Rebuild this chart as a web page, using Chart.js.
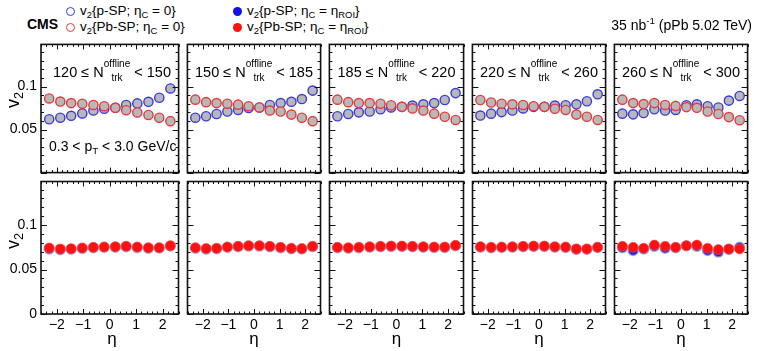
<!DOCTYPE html>
<html>
<head>
<meta charset="utf-8">
<script src="https://cdn.jsdelivr.net/npm/chart.js@4"></script>
<style>
  body { margin: 0; background: #fff; }
  #fig { position: relative; width: 764px; height: 351px; overflow: hidden;
         font-family: "Liberation Sans", Arial, sans-serif; color: #000; }
  #fig canvas { position: absolute; }
  .t { position: absolute; white-space: nowrap; line-height: 1; }
  .stk { display: inline-flex; flex-direction: column; font-size: 10px; line-height: 14px; vertical-align: 10px; }
  .mk { position: absolute; width: 9px; height: 9px; border-radius: 50%; box-sizing: border-box; }
  sub { font-size: 70%; vertical-align: -0.3em; line-height: 0; }
  sup { font-size: 70%; vertical-align: 0.6em; line-height: 0; }
</style>
</head>
<body>
<div id="fig"></div>
<script>
// eta bin centres
const eta = [-2.29, -1.87, -1.46, -1.04, -0.62, -0.21, 0.21, 0.62, 1.04, 1.46, 1.87, 2.29];
const xTicks = [-2, -1, 0, 1, 2];
const yTicks = [0, 0.05, 0.1];

// multiplicity classes
const nLow = [120, 150, 185, 220, 260];
const nHigh = [150, 185, 220, 260, 300];

// top row: eta_C = 0
const pSP0 = [
  [0.0620, 0.0638, 0.0660, 0.0688, 0.0721, 0.0742, 0.0753, 0.0786, 0.0804, 0.0823, 0.0870, 0.0978],
  [0.0638, 0.0655, 0.0681, 0.0710, 0.0728, 0.0750, 0.0757, 0.0786, 0.0808, 0.0823, 0.0855, 0.0953],
  [0.0655, 0.0681, 0.0700, 0.0710, 0.0736, 0.0757, 0.0764, 0.0779, 0.0793, 0.0808, 0.0844, 0.0924],
  [0.0663, 0.0685, 0.0703, 0.0721, 0.0746, 0.0764, 0.0764, 0.0779, 0.0783, 0.0793, 0.0829, 0.0910],
  [0.0685, 0.0677, 0.0692, 0.0736, 0.0721, 0.0728, 0.0783, 0.0793, 0.0772, 0.0757, 0.0837, 0.0891]
];
const PbSP0 = [
  [0.0862, 0.0826, 0.0808, 0.0801, 0.0786, 0.0772, 0.0753, 0.0725, 0.0699, 0.0670, 0.0638, 0.0598],
  [0.0848, 0.0819, 0.0808, 0.0801, 0.0790, 0.0772, 0.0757, 0.0721, 0.0710, 0.0674, 0.0638, 0.0598],
  [0.0848, 0.0819, 0.0808, 0.0808, 0.0801, 0.0783, 0.0764, 0.0746, 0.0721, 0.0685, 0.0649, 0.0612],
  [0.0844, 0.0815, 0.0801, 0.0793, 0.0786, 0.0772, 0.0764, 0.0742, 0.0728, 0.0674, 0.0649, 0.0612],
  [0.0848, 0.0808, 0.0797, 0.0808, 0.0786, 0.0775, 0.0761, 0.0753, 0.0710, 0.0681, 0.0645, 0.0609]
];

// bottom row: eta_C = eta_ROI
const pSProi = [
  [0.0732, 0.0722, 0.0728, 0.0738, 0.0746, 0.0750, 0.0752, 0.0757, 0.0747, 0.0740, 0.0742, 0.0765],
  [0.0740, 0.0730, 0.0735, 0.0750, 0.0757, 0.0764, 0.0764, 0.0757, 0.0745, 0.0734, 0.0731, 0.0758],
  [0.0745, 0.0740, 0.0745, 0.0752, 0.0757, 0.0760, 0.0760, 0.0757, 0.0752, 0.0748, 0.0748, 0.0768],
  [0.0752, 0.0745, 0.0748, 0.0752, 0.0757, 0.0760, 0.0760, 0.0752, 0.0748, 0.0727, 0.0728, 0.0748],
  [0.0746, 0.0714, 0.0732, 0.0761, 0.0739, 0.0746, 0.0768, 0.0761, 0.0714, 0.0696, 0.0725, 0.0750]
];
const PbSProi = [
  [0.0742, 0.0732, 0.0735, 0.0742, 0.0750, 0.0753, 0.0757, 0.0761, 0.0753, 0.0746, 0.0746, 0.0768],
  [0.0746, 0.0736, 0.0739, 0.0753, 0.0761, 0.0768, 0.0768, 0.0761, 0.0750, 0.0739, 0.0736, 0.0761],
  [0.0750, 0.0746, 0.0750, 0.0757, 0.0761, 0.0764, 0.0764, 0.0761, 0.0757, 0.0753, 0.0753, 0.0772],
  [0.0757, 0.0750, 0.0753, 0.0757, 0.0761, 0.0764, 0.0764, 0.0757, 0.0753, 0.0732, 0.0732, 0.0750],
  [0.0761, 0.0750, 0.0739, 0.0775, 0.0761, 0.0750, 0.0768, 0.0775, 0.0739, 0.0725, 0.0732, 0.0732]
];

// layout (pixels)
const edgesX = [41, 183, 325, 468, 610, 752];
const rowTop = [40, 177];
const rowH = 137;
const xAxisH = 37;
const yAxisW = 41;

const fig = document.getElementById('fig');

function fmt(v) {
  return String(v).replace('-', '\u2212');
}

// frame + inward ticks on all four sides, drawn from the chart's own scales
const framePlugin = {
  id: 'frame',
  afterDraw(chart) {
    const { ctx, chartArea: a, scales: { x, y } } = chart;
    ctx.save();
    ctx.strokeStyle = '#111';
    ctx.lineWidth = 1;
    ctx.beginPath();
    for (let i = -13; i <= 13; i++) {
      const px = Math.round(x.getPixelForValue(i * 0.2)) + 0.5;
      const len = i % 5 === 0 ? 5 : 2.5;
      ctx.moveTo(px, a.bottom); ctx.lineTo(px, a.bottom - len);
      ctx.moveTo(px, a.top); ctx.lineTo(px, a.top + len);
    }
    for (let i = 0; i <= 14; i++) {
      const py = Math.round(y.getPixelForValue(i * 0.01)) + 0.5;
      const len = i % 5 === 0 ? 6 : 3;
      ctx.moveTo(a.left, py); ctx.lineTo(a.left + len, py);
      ctx.moveTo(a.right, py); ctx.lineTo(a.right - len, py);
    }
    ctx.stroke();
    ctx.lineWidth = 1.6;
    ctx.strokeRect(a.left, a.top, a.right - a.left, a.bottom - a.top);
    ctx.restore();
  }
};

function points(vals) {
  return vals.map((v, i) => ({ x: eta[i], y: v }));
}

function noPad(s) {
  s.paddingLeft = 0; s.paddingRight = 0; s.paddingTop = 0; s.paddingBottom = 0;
}

function makePanel(row, col) {
  const first = col === 0;
  const bottom = row === 1;
  const left = first ? 0 : edgesX[col] - 2;
  const top = rowTop[row] - 2;
  const width = edgesX[col + 1] + 2 - left;
  const height = rowH + 2 + (bottom ? xAxisH : 2);

  const cv = document.createElement('canvas');
  cv.width = width; cv.height = height;
  cv.style.left = left + 'px'; cv.style.top = top + 'px';
  cv.style.width = width + 'px'; cv.style.height = height + 'px';
  fig.appendChild(cv);

  const datasets = bottom ? [
    { data: points(PbSProi[col]), pointRadius: 5, backgroundColor: '#ff1010', borderColor: 'rgba(255,80,80,0.6)', borderWidth: 1 },
    { data: points(pSProi[col]), pointRadius: 5, backgroundColor: '#2020e0', borderColor: 'rgba(150,150,200,0.7)', borderWidth: 1.5 }
  ] : [
    { data: points(PbSP0[col]), pointRadius: 4.6, backgroundColor: '#b8b8b8', borderColor: '#e8383a', borderWidth: 1.4 },
    { data: points(pSP0[col]), pointRadius: 4.6, backgroundColor: '#b8b8b8', borderColor: '#3a3ae0', borderWidth: 1.4 }
  ];

  new Chart(cv, {
    type: 'scatter',
    data: { datasets },
    options: {
      responsive: false,
      animation: false,
      layout: { padding: { left: first ? 0 : 2, right: 2, top: 2, bottom: bottom ? 0 : 2 } },
      plugins: { legend: { display: false }, tooltip: { enabled: false } },
      elements: { point: { hoverRadius: 5 } },
      scales: {
        x: {
          type: 'linear', min: -2.6, max: 2.6, display: bottom,
          grid: { display: false, drawTicks: false }, border: { display: false },
          ticks: { color: '#000', font: { family: 'Liberation Sans', size: 14 }, padding: 3, callback: v => fmt(v) },
          afterBuildTicks: s => { s.ticks = xTicks.map(v => ({ value: v })); },
          afterFit: s => { s.height = bottom ? xAxisH : 0; noPad(s); }
        },
        y: {
          type: 'linear', min: 0, max: 0.149, display: first,
          grid: { display: false, drawTicks: false }, border: { display: false },
          ticks: { color: '#000', font: { family: 'Liberation Sans', size: 14 }, padding: 4, callback: v => fmt(v) },
          afterBuildTicks: s => { s.ticks = yTicks.filter(v => bottom || v > 0).map(v => ({ value: v })); },
          afterFit: s => { s.width = first ? yAxisW : 0; noPad(s); }
        }
      }
    },
    plugins: [framePlugin]
  });
}

for (let r = 0; r < 2; r++) {
  for (let c = 0; c < 5; c++) makePanel(r, c);
}

// text overlay
function addText(html, style) {
  const d = document.createElement('div');
  d.className = 't';
  d.innerHTML = html;
  Object.assign(d.style, style);
  fig.appendChild(d);
  return d;
}

for (let c = 0; c < 5; c++) {
  const cx = (edgesX[c] + edgesX[c + 1]) / 2;
  addText(nLow[c] + ' \u2264 N<span class="stk"><span>offline</span><span>trk</span></span> &lt; ' + nHigh[c],
    { left: (cx - 80) + 'px', width: '160px', textAlign: 'center', top: '57px', fontSize: '14.5px' });
  addText('\u03b7', { left: (cx - 20) + 'px', width: '40px', textAlign: 'center', top: '330px', fontSize: '17px' });
}

addText('0.3 &lt; p<sub>T</sub> &lt; 3.0 GeV/c', { left: '49px', top: '139px', fontSize: '14px' });

for (let r = 0; r < 2; r++) {
  addText('v<sub>2</sub>', { left: '-7px', width: '40px', textAlign: 'center',
    top: (r === 0 ? 91 : 232) + 'px', fontSize: '18px', transform: 'rotate(-90deg)' });
}

addText('CMS', { left: '27px', top: '17px', fontSize: '14px', fontWeight: 'bold' });

function addMarker(x, y, filled, color) {
  const m = document.createElement('div');
  m.className = 'mk';
  m.style.left = (x - 4.5) + 'px';
  m.style.top = (y - 4.5) + 'px';
  m.style.border = filled ? 'none' : '1.4px solid ' + color;
  m.style.background = filled ? color : 'transparent';
  fig.appendChild(m);
}

addMarker(70, 11, false, '#3a3ae0');
addMarker(70, 27, false, '#e8383a');
addMarker(237, 11, true, '#1010e8');
addMarker(237, 27, true, '#ff1010');

addText('v<sub>2</sub>{p-SP; \u03b7<sub>C</sub> = 0}', { left: '80px', top: '4px', fontSize: '13.5px' });
addText('v<sub>2</sub>{Pb-SP; \u03b7<sub>C</sub> = 0}', { left: '80px', top: '20px', fontSize: '13.5px' });
addText('v<sub>2</sub>{p-SP; \u03b7<sub>C</sub> = \u03b7<sub>ROI</sub>}', { left: '247px', top: '4px', fontSize: '13.5px' });
addText('v<sub>2</sub>{Pb-SP; \u03b7<sub>C</sub> = \u03b7<sub>ROI</sub>}', { left: '247px', top: '20px', fontSize: '13.5px' });

addText('35 nb<sup>-1</sup> (pPb 5.02 TeV)', { right: '12px', top: '18px', fontSize: '14px' });
</script>
</body>
</html>
